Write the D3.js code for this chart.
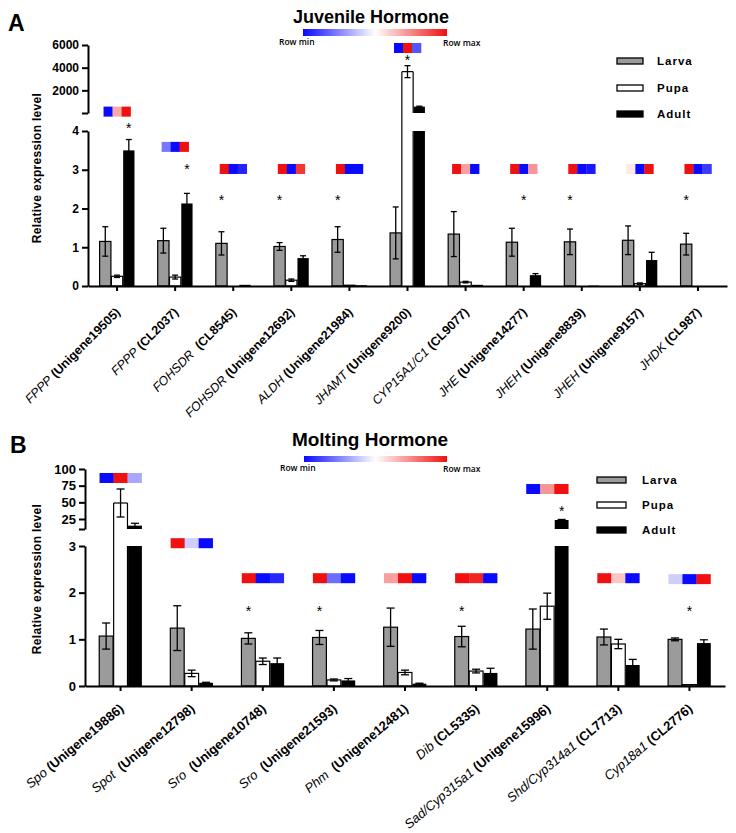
<!DOCTYPE html>
<html><head><meta charset="utf-8">
<script src="https://cdn.jsdelivr.net/npm/d3@7"></script>
<style>
body{margin:0;background:#fff;}
svg{display:block;font-family:"Liberation Sans",Arial,sans-serif;}
</style></head>
<body><svg id="chart" width="736" height="833"></svg>
<script>
// ---------------- DATA ----------------
const series = ["Larva", "Pupa", "Adult"];

// Panel A: Juvenile Hormone
const juvGenes = ["FPPP","FPPP","FOHSDR","FOHSDR","ALDH","JHAMT","CYP15A1/C1","JHE","JHEH","JHEH","JHDK"];
const juvIds   = [" (Unigene19505)"," (CL2037)","  (CL8545)"," (Unigene12692)"," (Unigene21984)"," (Unigene9200)"," (CL9077)"," (Unigene14277)"," (Unigene8839)"," (Unigene9157)"," (CL987)"];
const juvLarva    = [1.15, 1.17, 1.10, 1.02, 1.20, 1.37, 1.34, 1.13, 1.14, 1.18, 1.08];
const juvLarvaErr = [0.38, 0.32, 0.30, 0.10, 0.33, 0.67, 0.58, 0.36, 0.33, 0.37, 0.28];
const juvPupa     = [0.25, 0.23, 0.00, 0.15, 0.02, 3650, 0.10, 0.00, 0.00, 0.06, 0.00];
const juvPupaErr  = [0.03, 0.05, 0.00, 0.03, 0.00, 530, 0.02, 0.00, 0.00, 0.02, 0.00];
const juvAdult    = [3.50, 2.13, 0.03, 0.72, 0.02, 560, 0.03, 0.28, 0.01, 0.67, 0.00];
const juvAdultErr = [0.28, 0.26, 0.00, 0.06, 0.00, 40, 0.00, 0.04, 0.00, 0.20, 0.00];
const juvHeat = [[0,0.68,1],[0.22,0,1],[1,0,0.05],[1,0,0.92],[1,0,0],[0,1,0.15],[1,0.7,0],[1,0,0.72],[1,0,0.03],[0.55,0,1],[1,0,0.1]];
const juvHeatLevel = [4.5, 3.59, 3.02, 3.02, 3.02, 5735, 3.02, 3.02, 3.02, 3.02, 3.02];
const juvStarSeries = [2, 2, 0, 0, 0, 1, -1, 1, 0, -1, 0];
const juvStarLevel  = [4.1, 3.05, 2.25, 2.25, 2.25, 4765, 0, 2.25, 2.25, 0, 2.25];
const juvLowTicks = [0, 1, 2, 3, 4];
const juvUpTicks  = [2000, 4000, 6000];

// Panel B: Molting Hormone
const molGenes = ["Spo","Spot","Sro","Sro","Phm","Dib","Sad/Cyp315a1","Shd/Cyp314a1","Cyp18a1"];
const molIds   = [" (Unigene19886)","  (Unigene12798)","  (Unigene10748)","  (Unigene21593)","  (Unigene12481)"," (CL5335)"," (Unigene15996)"," (CL7713)"," (CL2776)"];
const molLarva    = [1.07, 1.24, 1.02, 1.04, 1.26, 1.06, 1.22, 1.05, 1.00];
const molLarvaErr = [0.28, 0.48, 0.12, 0.15, 0.41, 0.22, 0.43, 0.17, 0.03];
const molPupa     = [49, 0.27, 0.53, 0.13, 0.29, 0.32, 1.71, 0.90, 0.03];
const molPupaErr  = [21, 0.07, 0.07, 0.02, 0.05, 0.04, 0.28, 0.10, 0.00];
const molAdult    = [15, 0.07, 0.49, 0.12, 0.05, 0.28, 23.5, 0.45, 0.92];
const molAdultErr = [3.6, 0.01, 0.11, 0.04, 0.01, 0.10, 0.8, 0.12, 0.07];
const molHeat = [[0,1,0.32],[1,0.4,0],[1,0,0.06],[1,0.2,0],[0.7,1,0],[1,0.96,0],[0,0.72,1],[1,0.62,0],[0.4,0,1]];
const molHeatLevel = [86.5, 3.06, 2.31, 2.31, 2.31, 2.31, 70, 2.31, 2.29];
const molStarSeries = [-1, -1, 0, 0, -1, 0, 2, -1, 1];
const molStarLevel  = [0, 0, 1.63, 1.63, 0, 1.63, 38.5, 0, 1.63];
const molLowTicks = [0, 1, 2, 3];
const molUpTicks  = [25, 50, 75, 100];

// ---------------- DRAWING ----------------
const svg = d3.select("#chart");
svg.append("rect").attr("width",736).attr("height",833).attr("fill","#fff");

const heatColor = d3.scaleLinear().domain([0,0.5,1]).range(["#0a0aff","#ffffff","#f01010"]);
const fills = {Larva:"#9b9b9b", Pupa:"#ffffff", Adult:"#000000"};

const defs = svg.append("defs");
const grad = defs.append("linearGradient").attr("id","rowgrad");
grad.append("stop").attr("offset","0%").attr("stop-color","#0a0aff");
grad.append("stop").attr("offset","50%").attr("stop-color","#ffffff");
grad.append("stop").attr("offset","100%").attr("stop-color","#f01010");

function panel(o) {
  const g = svg.append("g");
  const cats = o.genes.map((d,i)=>i);
  const x = d3.scaleBand().domain(cats).range([o.x0, o.x1]);
  const bw = x.bandwidth();
  const xs = d3.scaleBand().domain(series).range([bw*(1-o.gf)/2, bw*(1+o.gf)/2]).paddingInner(0.04);
  const yLow = d3.scaleLinear().domain([0, o.lowMax]).range([o.yBase, o.yLowTop]);
  const yUp = d3.scaleLinear().domain([o.upMin, o.upMax]).range([o.yUpBot, o.yUpTop]);
  const yv = v => v <= o.lowMax*1.2 ? yLow(v) : yUp(v);

  // panel letter + title
  g.append("text").attr("x",o.letterX).attr("y",o.letterY).text(o.letter)
    .attr("font-size",23).attr("font-weight","bold");
  g.append("text").attr("x",o.titleX).attr("y",o.titleY).attr("text-anchor","middle")
    .attr("font-size",o.titleSize).attr("font-weight","bold").text(o.title);
  g.append("rect").attr("x",o.cbX0).attr("y",o.cbY).attr("width",o.cbX1-o.cbX0).attr("height",o.cbH)
    .attr("fill","url(#rowgrad)");
  g.append("text").attr("x",o.cbX0-24).attr("y",o.cbY+o.cbH+9).attr("font-family","'Open Sans',sans-serif")
    .attr("font-size",8.5).attr("font-weight","600").text("Row min");
  g.append("text").attr("x",o.cbX1-4).attr("y",o.cbY+o.cbH+10).attr("font-family","'Open Sans',sans-serif")
    .attr("font-size",8.5).attr("font-weight","600").text("Row max");

  // y label
  g.append("text").attr("transform",`translate(${o.yLabX},${o.yLabY}) rotate(-90)`)
    .attr("text-anchor","middle").attr("font-size",o.yLabSize).attr("font-weight","bold")
    .attr("letter-spacing",0.3).text("Relative expression level");

  // bars
  const vals = [o.larva, o.pupa, o.adult];
  const errs = [o.larvaErr, o.pupaErr, o.adultErr];
  cats.forEach(i => {
    series.forEach((s, k) => {
      const v = vals[k][i], e = errs[k][i];
      const bx = x(i) + xs(s), w = xs.bandwidth();
      const stroke = s === "Adult" ? "none" : "#000";
      const addRect = (y0, y1, st) => g.append("rect").attr("x",bx).attr("y",y0).attr("width",w)
        .attr("height",Math.max(0,y1-y0)).attr("fill",fills[s]).attr("stroke",st).attr("stroke-width",1.2);
      const ln = (x1,y1,x2,y2) => g.append("line").attr("x1",x1).attr("y1",y1).attr("x2",x2).attr("y2",y2)
        .attr("stroke","#000").attr("stroke-width",1.2);
      if (v > 0) {
        if (v <= o.lowMax) addRect(yLow(v), yLow(0), stroke);
        else {
          addRect(yLow(o.lowMax), yLow(0), "none");
          addRect(yUp(v), yUp(o.upMin), "none");
          if (stroke !== "none") {
            ln(bx, yUp(v), bx, yLow(0));
            ln(bx, yUp(v), bx+w, yUp(v));
            ln(bx+w, yUp(v), bx+w, yUp(o.upMin));
            ln(bx+w, yLow(o.lowMax), bx+w, yLow(0));
          }
        }
      }
      if (e > 0) {
        const sc = v > o.lowMax ? yUp : yLow;
        const cx = bx + w/2;
        const eg = g.append("g").attr("stroke","#000").attr("stroke-width",1.3);
        eg.append("line").attr("x1",cx).attr("x2",cx).attr("y1",sc(v-e)).attr("y2",sc(v+e));
        [v-e, v+e].forEach(t => eg.append("line").attr("x1",cx-o.capW/2).attr("x2",cx+o.capW/2)
          .attr("y1",sc(t)).attr("y2",sc(t)));
      }
    });
    // heatmap row
    const cx = x(i) + bw/2;
    o.heat[i].forEach((h, j) => {
      g.append("rect").attr("x", cx + (j-1.5)*o.cellW).attr("y", yv(o.heatLevel[i]) - o.cellH/2)
        .attr("width", o.cellW+0.3).attr("height", o.cellH).attr("fill", heatColor(h));
    });
    // significance star
    if (o.starSeries[i] >= 0) {
      const sx = x(i) + xs(series[o.starSeries[i]]) + xs.bandwidth()/2;
      g.append("text").attr("x",sx).attr("y",yv(o.starLevel[i])+6).attr("text-anchor","middle")
        .attr("font-size",14).text("*");
    }
  });

  // axes
  const axStyle = sel => {
    sel.selectAll("path,line").attr("stroke","#000").attr("stroke-width",2);
    sel.selectAll("text").attr("font-size",o.tickSize).attr("font-weight","bold")
      .attr("font-family","'Liberation Sans',Arial,sans-serif").attr("fill","#000");
  };
  g.append("g").attr("transform",`translate(${o.x0},0)`)
    .call(d3.axisLeft(yLow).tickValues(o.lowTicks).tickSize(6).tickSizeOuter(0).tickFormat(d3.format("d")))
    .call(axStyle);
  g.append("g").attr("transform",`translate(${o.x0},0)`)
    .call(d3.axisLeft(yUp).tickValues([o.upMin].concat(o.upTicks)).tickSize(6).tickSizeOuter(0)
      .tickFormat(d => d === o.upMin ? "" : d3.format("d")(d)))
    .call(axStyle);
  g.append("g").attr("transform",`translate(0,${o.yBase})`)
    .call(d3.axisBottom(x).tickSize(5).tickSizeOuter(0).tickFormat(""))
    .call(axStyle);

  // x labels
  cats.forEach(i => {
    const t = g.append("text")
      .attr("transform",`translate(${x(i)+bw/2+o.labDX},${o.yBase+o.labDY}) rotate(${o.labRot})`)
      .attr("text-anchor","end").attr("font-size",o.labSize).attr("fill","#000").attr("xml:space","preserve");
    t.append("tspan").attr("font-style","italic").attr("fill","#000").text(o.genes[i]);
    t.append("tspan").attr("font-weight","bold").attr("fill","#000").text(o.ids[i]);
  });

  // legend
  series.forEach((s, k) => {
    g.append("rect").attr("x",o.legX).attr("y",o.legY[k]-o.legH/2).attr("width",o.legW).attr("height",o.legH)
      .attr("fill",fills[s]).attr("stroke","#000").attr("stroke-width",1.3);
    g.append("text").attr("x",o.legTX).attr("y",o.legY[k]+4).attr("font-size",11.5).attr("font-weight","bold")
      .attr("letter-spacing",1).text(s);
  });
}

panel({
  letter:"A", letterX:8, letterY:31, title:"Juvenile Hormone", titleX:371, titleY:23, titleSize:18,
  cbX0:303, cbX1:447, cbY:29, cbH:7,
  yLabX:41, yLabY:168, yLabSize:12,
  genes:juvGenes, ids:juvIds, larva:juvLarva, larvaErr:juvLarvaErr, pupa:juvPupa, pupaErr:juvPupaErr,
  adult:juvAdult, adultErr:juvAdultErr, heat:juvHeat, heatLevel:juvHeatLevel,
  starSeries:juvStarSeries, starLevel:juvStarLevel, lowTicks:juvLowTicks, upTicks:juvUpTicks,
  x0:88, x1:727, yBase:286, lowMax:4, yLowTop:131, upMin:0, upMax:6000, yUpBot:113, yUpTop:45,
  gf:0.6, cellW:9, cellH:10, capW:6, tickSize:12,
  labDX:4, labDY:27, labRot:-45, labSize:12.5,
  legX:617, legW:26, legH:6, legY:[61,88,114], legTX:657
});

panel({
  letter:"B", letterX:10, letterY:453, title:"Molting Hormone", titleX:370, titleY:446, titleSize:19,
  cbX0:304, cbX1:447, cbY:456, cbH:6,
  yLabX:41, yLabY:579, yLabSize:12,
  genes:molGenes, ids:molIds, larva:molLarva, larvaErr:molLarvaErr, pupa:molPupa, pupaErr:molPupaErr,
  adult:molAdult, adultErr:molAdultErr, heat:molHeat, heatLevel:molHeatLevel,
  starSeries:molStarSeries, starLevel:molStarLevel, lowTicks:molLowTicks, upTicks:molUpTicks,
  x0:85, x1:725, yBase:686, lowMax:3, yLowTop:546, upMin:10, upMax:100, yUpBot:529, yUpTop:469,
  gf:0.6, cellW:14, cellH:10, capW:8, tickSize:13,
  labDX:4, labDY:24, labRot:-40, labSize:13,
  legX:597, legW:29, legH:6, legY:[480,505,530], legTX:642
});
</script></body></html>
